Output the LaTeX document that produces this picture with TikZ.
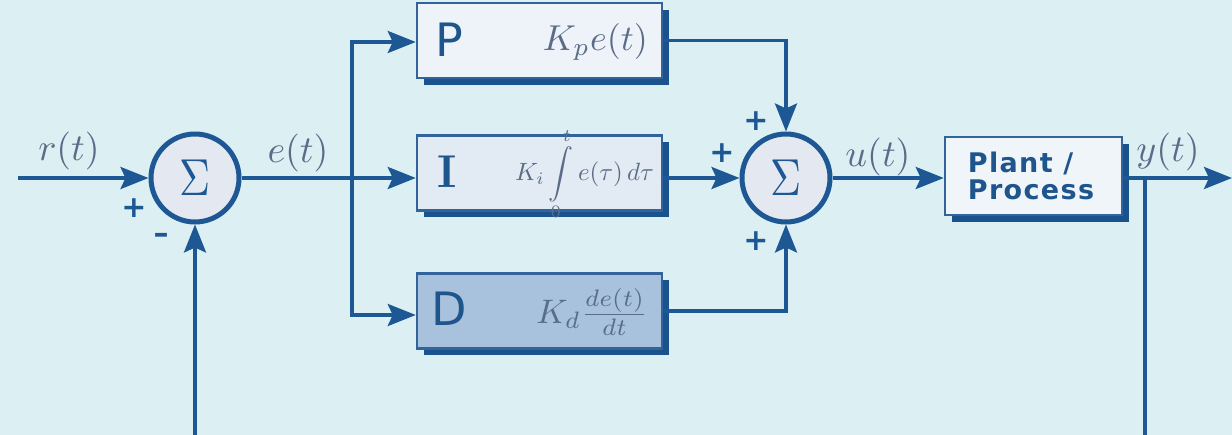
\documentclass[tikz,border=0pt]{standalone}
\usepackage{amsmath}
\usepackage{fontspec}
\setsansfont{DejaVu Sans}
\usetikzlibrary{arrows.meta,shadows}
\definecolor{bg}{RGB}{220,239,243}
\definecolor{linec}{RGB}{30,88,148}
\definecolor{shadowc}{RGB}{25,82,140}
\definecolor{boxedge}{RGB}{50,100,155}
\definecolor{pfill}{RGB}{238,243,249}
\definecolor{ifill}{RGB}{226,234,243}
\definecolor{dfill}{RGB}{168,194,222}
\definecolor{plfill}{RGB}{240,245,250}
\definecolor{circfill}{RGB}{228,233,241}
\definecolor{labc}{RGB}{90,108,135}
\definecolor{letc}{RGB}{30,85,140}
\newcommand{\mymath}[2]{\scalebox{#1}{$#2$}}
\begin{document}
\begin{tikzpicture}[x=1pt,y=-1pt,
  lin/.style={draw=linec, line width=3.5pt},
  arr/.style={lin, -{Stealth[length=28pt,width=22pt,inset=5pt]}},
  blk/.style={draw=boxedge, line width=2.5pt, minimum width=245pt, minimum height=75pt, inner sep=0pt,
    drop shadow={shadow xshift=7pt, shadow yshift=-7pt, fill=shadowc, opacity=1}},
  sumn/.style={circle, draw=linec, line width=5pt, fill=circfill, minimum size=88pt, inner sep=0pt,
    text=linec, font=\fontsize{10}{10}\selectfont},
  sgn/.style={text=linec, font=\fontsize{30}{30}\sffamily\bfseries, inner sep=0pt},
  lab/.style={text=labc, font=\fontsize{10}{10}\selectfont, inner sep=0pt},
  blet/.style={text=letc, font=\fontsize{46}{46}\sffamily, inner sep=0pt},
  form/.style={text=labc, anchor=east, inner sep=0pt, font=\fontsize{10}{10}\selectfont}
]
\fill[bg] (0,0) rectangle (1232,435);
\useasboundingbox (0,0) rectangle (1232,435);

% coordinates
\coordinate (in) at (18,178);
\coordinate (br) at (352,178);
\coordinate (btop) at (352,42);
\coordinate (bbot) at (352,315);
\coordinate (out) at (1232,178);
\coordinate (fbR) at (1145,178);
\coordinate (fbRb) at (1145,435);
\coordinate (fbLb) at (195,435);

% summing junctions
\node[sumn] (s1) at (195,178) {\scalebox{4.3}[5.2]{$\Sigma$}};
\node[sumn] (s2) at (786,178) {\scalebox{4.3}[5.2]{$\Sigma$}};

% blocks
\node[blk, fill=pfill] (pB) at (539.5,40.5) {};
\node[blk, fill=ifill] (iB) at (539.5,173) {};
\node[blk, fill=dfill] (dB) at (539.5,311) {};
\node[blk, fill=plfill, minimum width=177pt, minimum height=78pt, inner xsep=0pt] (pl) at (1033.5,176) {};
\node[text=letc, inner sep=0pt, font=\fontsize{27}{27}\sffamily\bfseries\addfontfeature{LetterSpace=5},
  align=left] (plt) at (1031,176) {Plant /\\Process};

% block letters
\node[blet] (pL) at (449,40) {P};
\node[blet, font=\fontsize{46}{46}\rmfamily\bfseries] (iL) at (447,172) {I};
\node[blet] (dL) at (449,309) {D};

% formulas
\node[form] (pF) at (648,42) {\mymath{3.6}{K_p e(t)}};
\node[form] (iF) at (654,174) {\mymath{2.5}{K_i\displaystyle\int\limits_0^t e(\tau)\,d\tau}};
\node[form] (dF) at (648,312) {\mymath{3.4}{K_d\frac{de(t)}{dt}}};

% connectors
\draw[arr] (in) -- (s1.west);
\draw[lin] (s1.east) -- (br);
\draw[arr] (br) |- (btop -| pB.west);
\draw[arr] (br) -- (br -| iB.west);
\draw[arr] (br) |- (bbot -| dB.west);
\draw[arr] (pB.east) -| (s2.north);
\draw[arr] (iB.east |- s2) -- (s2.west);
\draw[arr] (dB.east) -| (s2.south);
\draw[arr] (s2.east) -- (s2.east -| pl.west);
\draw[arr] (pl.east |- out) -- (out);
\draw[lin] (fbR) -- (fbRb);
\draw[arr] (fbLb) -- (s1.south);

% signs
\node[sgn] (sg1) at (134,208) {+};
\node[sgn] (sg2) at (161,238) {\textendash};
\node[sgn] (sg3) at (756,121) {+};
\node[sgn] (sg4) at (722,153) {+};
\node[sgn] (sg5) at (756,241) {+};

% labels
\node[lab] (lr) at (69,151) {\mymath{3.8}{r(t)}};
\node[lab] (le) at (298,153) {\mymath{3.8}{e(t)}};
\node[lab] (lu) at (878,157) {\mymath{3.8}{u(t)}};
\node[lab] (ly) at (1168,152) {\mymath{3.8}{y(t)}};
\end{tikzpicture}
\end{document}
